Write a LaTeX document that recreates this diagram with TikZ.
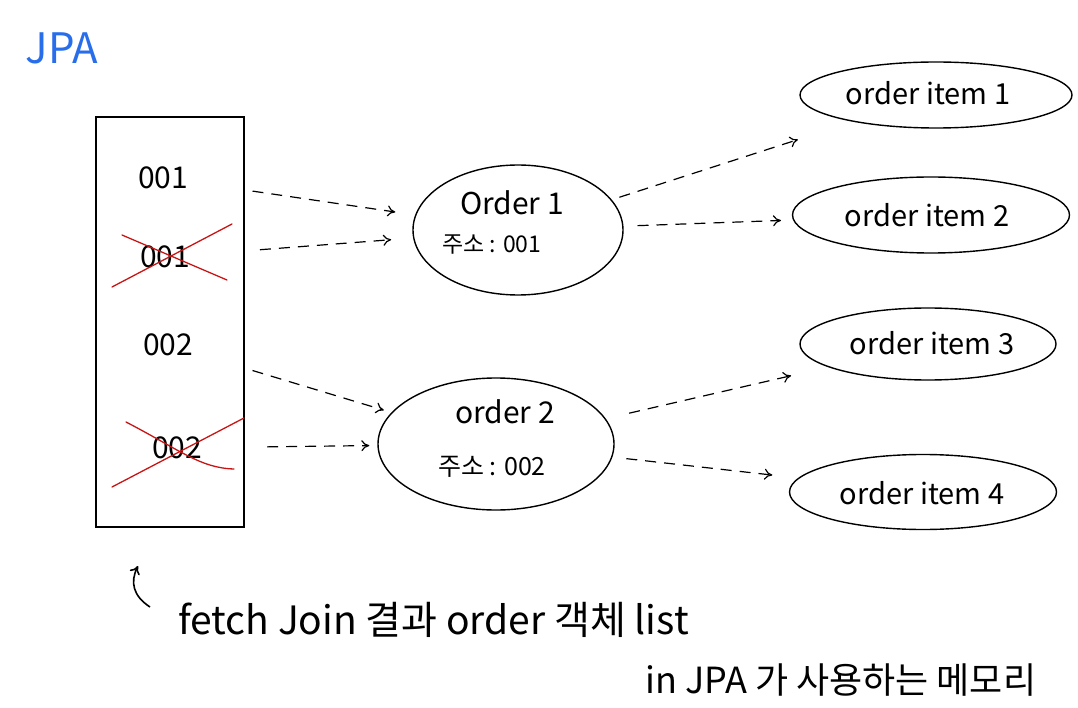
\documentclass[tikz,border=0pt]{standalone}
\usepackage{fontspec}
\setmainfont{Noto Sans CJK KR}
\usetikzlibrary{shapes.geometric,arrows.meta}

\definecolor{jpablue}{RGB}{40,110,235}
\definecolor{crossred}{RGB}{200,20,20}

\tikzset{
  hand/.style={font=\fontsize{#1}{#1}\selectfont, inner sep=0pt},
  orderbox/.style={draw, ellipse, line width=1.4pt, inner sep=0pt},
  link/.style={->, line width=1.2pt, dash pattern=on 11pt off 8pt},
  strike/.style={crossred, line width=1.3pt, line cap=round}
}

\begin{document}
\begin{tikzpicture}[x=1pt,y=-1pt,>={To[length=8pt,width=11pt]}]
        \useasboundingbox (0,0) rectangle (1078,708);

        \node[hand=42, text=jpablue] (jpa) at (62,48){JPA};

        % memory list
        \node[draw, line width=1.4pt, minimum width=148pt, minimum height=410pt] (mem) at (170,322){};
        \node[hand=30] (id1) at (163,178){001};
        \node[hand=30] (id1dup) at (165,257){001};
        \node[hand=30] (id2) at (168,345){002};
        \node[hand=30] (id2dup) at (177,448){002};

        \draw[strike] (112,287) -- (232,224);
        \draw[strike] (122,235) -- (227,280);
        \draw[strike] (112,487) -- (244,418);
        \draw[strike] (126,422) .. controls (180,450) and (200,468) .. (234,469);

        % orders
        \node[orderbox, minimum width=210pt, minimum height=130pt] (order1) at (518,230){};
        \node[hand=30] (order1name) at (512,203){Order 1};
        \node[hand=23] (order1addr) at (492,245){주소 : 001};

        \node[orderbox, minimum width=236pt, minimum height=132pt] (order2) at (496,444){};
        \node[hand=30] (order2name) at (505,412){order 2};
        \node[hand=25] (order2addr) at (492,467){주소 : 002};

        % order items
        \node[orderbox, minimum width=272pt, minimum height=66pt] (item1) at (936,95){};
        \node[hand=29] (item1name) at (928,93){order item 1};
        \node[orderbox, minimum width=277pt, minimum height=76pt] (item2) at (931,215){};
        \node[hand=29] (item2name) at (927,215){order item 2};
        \node[orderbox, minimum width=256pt, minimum height=72pt] (item3) at (928,344){};
        \node[hand=29] (item3name) at (932,343){order item 3};
        \node[orderbox, minimum width=267pt, minimum height=75pt] (item4) at (923,492){};
        \node[hand=29] (item4name) at (922,493){order item 4};

        \draw (id1) edge[link, shorten <=65pt, shorten >=20pt] (order1);
        \draw (id1dup) edge[link, shorten <=70pt, shorten >=22pt] (order1);
        \draw (id2) edge[link, shorten <=62pt, shorten >=8pt] (order2);
        \draw (id2dup) edge[link, shorten <=65pt, shorten >=8pt] (order2);

        \draw (order1) edge[link, shorten <=8pt, shorten >=58pt] (item1);
        \draw (order1) edge[link, shorten <=14pt, shorten >=12pt] (item2);
        \draw (order2) edge[link, shorten <=24pt, shorten >=38pt] (item3);
        \draw (order2) edge[link, shorten <=14pt, shorten >=26pt] (item4);

        % note under the list
        \coordinate (notefrom) at (150,607);
        \coordinate (noteto) at (138,566);
        \draw[->, line width=1.6pt] (notefrom) .. controls (133,596) and (130,582) .. (noteto);
        \node[hand=39, anchor=west] (note1) at (178,620){fetch Join 결과 order 객체 list};
        \node[hand=36, anchor=west] (note2) at (645,680){in JPA 가 사용하는 메모리};
      \end{tikzpicture}
\end{document}
